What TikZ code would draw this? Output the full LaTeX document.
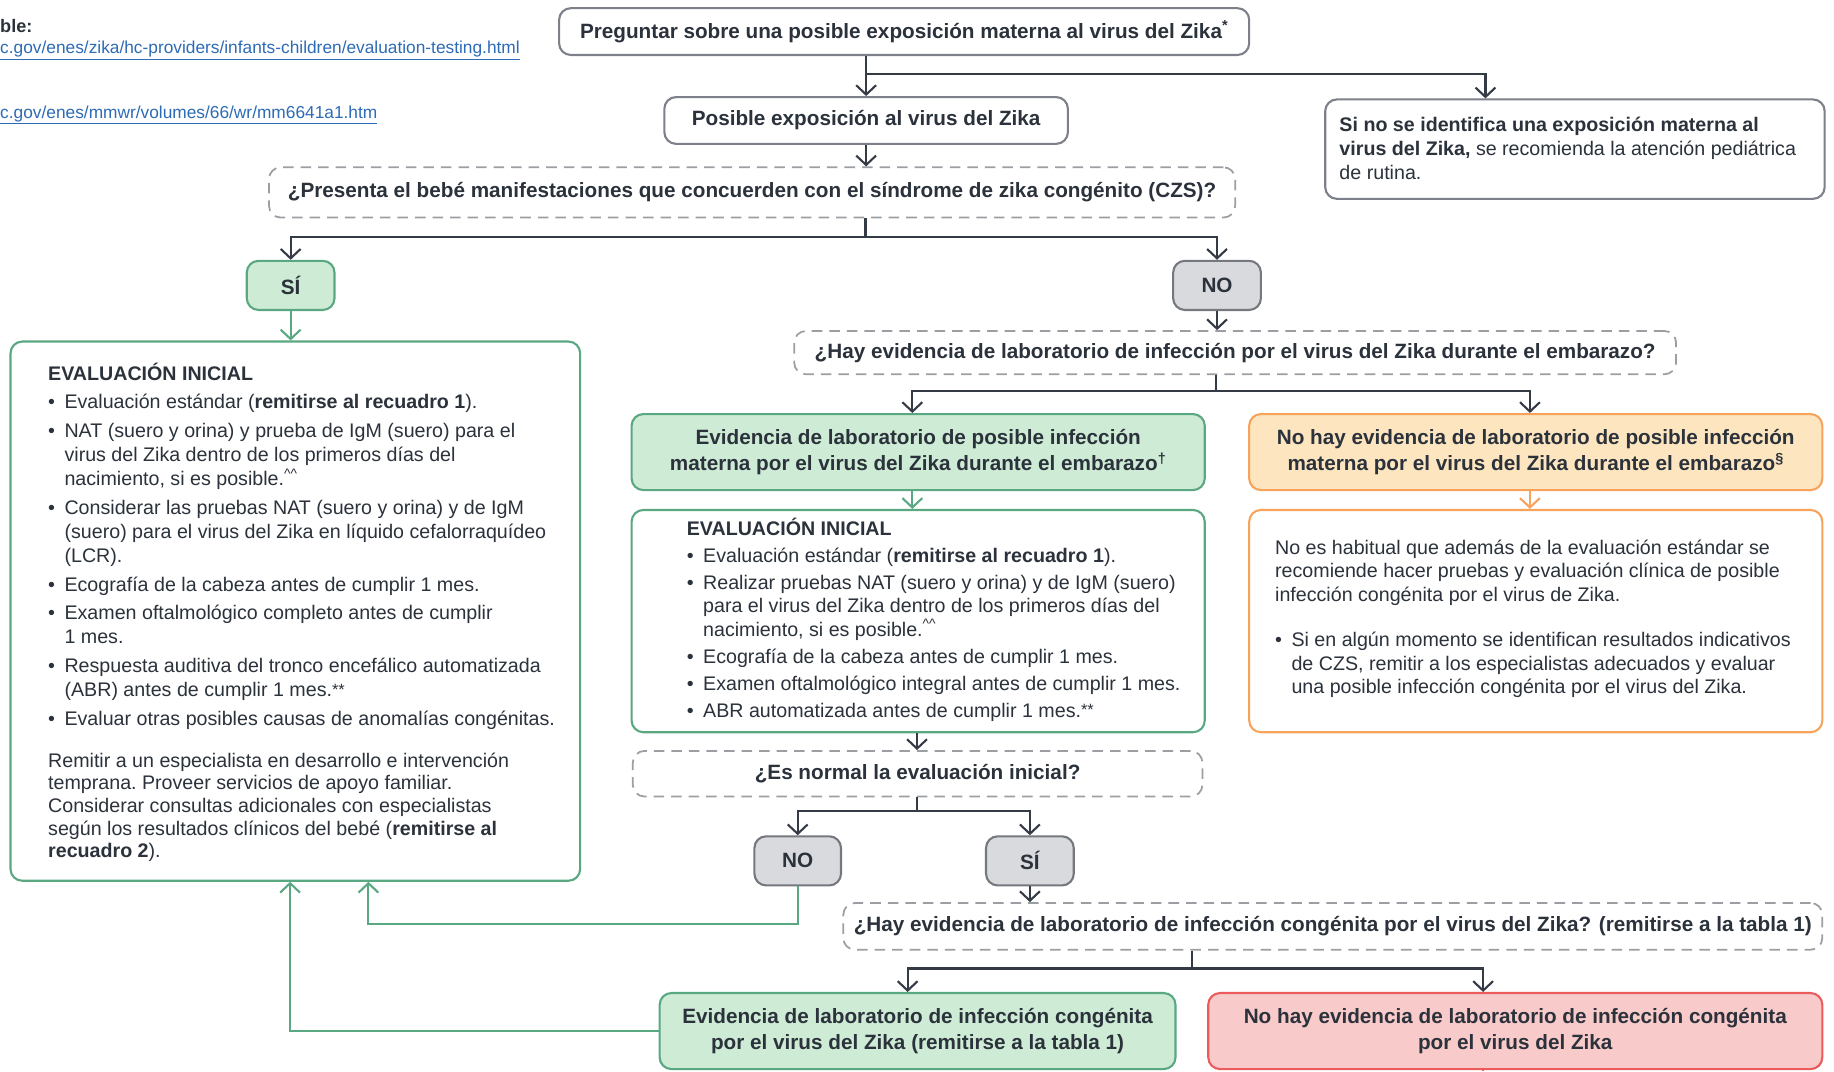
\documentclass[tikz,border=0pt]{standalone}
\usepackage{fontspec}
\setmainfont{Liberation Sans}
\usetikzlibrary{arrows.meta,calc}
\definecolor{txt}{HTML}{2B323B}
\definecolor{ln}{HTML}{343B45}
\definecolor{bxgray}{HTML}{7D8088}
\definecolor{dgray}{HTML}{9B9EA3}
\definecolor{grB}{HTML}{5AA882}
\definecolor{grF}{HTML}{CDEBD5}
\definecolor{gyB}{HTML}{75787E}
\definecolor{gyF}{HTML}{D9DADD}
\definecolor{orB}{HTML}{F7A35C}
\definecolor{orF}{HTML}{FDE5BF}
\definecolor{rdB}{HTML}{EB5B5B}
\definecolor{rdF}{HTML}{F9CACA}
\definecolor{lnk}{HTML}{2C6BB5}
\newcommand{\headfont}{\fontsize{17.7pt}{22pt}\selectfont\bfseries}
\newlength{\bul}
\setlength{\bul}{14pt}
\newlength{\igap}
\newcommand{\bitem}{\par\vspace{\igap}\hangindent=\bul\hangafter=1\noindent\makebox[\bul][l]{\textbullet}}
\newcommand{\tblock}[4]{\vtop{\hsize=#1\parindent=0pt\parskip=0pt\frenchspacing\setlength{\igap}{#3}\fontsize{16.8pt}{#2}\selectfont #4\par}}
\newcommand{\carets}{\textsuperscript{\char94\char94}}
\newcommand{\stars}{\raisebox{1pt}{\fontsize{14pt}{14pt}\selectfont **}}
\begin{document}
\begin{tikzpicture}[x=1pt,y=-1pt,
  bx/.style={draw=bxgray, fill=white, rounded corners=10pt, line width=1.8pt, inner sep=0pt, align=center, text=txt, font=\headfont},
  dbx/.style={bx, draw=dgray, line width=1.5pt, dash pattern=on 9pt off 6pt},
  gbx/.style={bx, draw=grB, fill=grF},
  ybx/.style={bx, draw=gyB, fill=gyF},
  obx/.style={bx, draw=orB, fill=orF},
  rbx/.style={bx, draw=rdB, fill=rdF},
  tx/.style={anchor=base west, inner sep=0pt, text=txt},
  conn/.style={draw=ln, line width=1.8pt},
  arr/.style={-{Straight Barb[length=8pt,width=17pt]}},
  garr/.style={draw=grB, line width=1.8pt, arr},
  oarr/.style={draw=orB, line width=1.8pt, arr}]
\useasboundingbox (0,0) rectangle (1568,916);

% header texts (top left, cut off)
\node[tx, font=\fontsize{15.5pt}{18pt}\selectfont\bfseries] (src) at (0,28) {ble:};
\node[tx, text=lnk, font=\fontsize{14.8pt}{18pt}\selectfont] (url1) at (0,46) {\underline{c.gov/enes/zika/hc-providers/infants-children/evaluation-testing.html}};
\node[tx, text=lnk, font=\fontsize{14.8pt}{18pt}\selectfont] (url2) at (0,101) {\underline{c.gov/enes/mmwr/volumes/66/wr/mm6641a1.htm}};

% boxes
\node[bx, minimum width=590, minimum height=40] (top) at (773,27) {Preguntar sobre una posible exposición materna al virus del Zika\textsuperscript{*}};
\node[bx, minimum width=345, minimum height=40] (pos) at (740.5,103) {Posible exposición al virus del Zika};
\node[bx, minimum width=427, minimum height=85] (right) at (1346.5,127.5) {};
\node[tx] (righttxt) at (1145,112) {\tblock{420pt}{20.7pt}{0pt}{\textbf{Si no se identifica una exposición materna al}\\\textbf{virus del Zika,} se recomienda la atención pediátrica\\de rutina.}};

\node[dbx, minimum width=826, minimum height=43] (q1) at (643,164.5) {¿Presenta el bebé manifestaciones que concuerden con el síndrome de zika congénito (CZS)?};
\node[gbx, minimum width=75, minimum height=42] (si1) at (248.5,244) {SÍ};
\node[ybx, minimum width=75, minimum height=42] (no1) at (1040.5,244) {NO};

\node[bx, draw=grB, minimum width=487, minimum height=461] (left) at (252.5,522.5) {};
\node[tx] (lefttxt) at (41,325) {\tblock{470pt}{20.6pt}{3.9pt}{%
\textbf{EVALUACIÓN INICIAL}
\bitem Evaluación estándar (\textbf{remitirse al recuadro 1}).
\bitem NAT (suero y orina) y prueba de IgM (suero) para el\\virus del Zika dentro de los primeros días del\\nacimiento, si es posible.\carets
\bitem Considerar las pruebas NAT (suero y orina) y de IgM\\(suero) para el virus del Zika en líquido cefalorraquídeo\\(LCR).
\bitem Ecografía de la cabeza antes de cumplir 1 mes.
\bitem Examen oftalmológico completo antes de cumplir\\1 mes.
\bitem Respuesta auditiva del tronco encefálico automatizada\\(ABR) antes de cumplir 1 mes.\stars
\bitem Evaluar otras posibles causas de anomalías congénitas.}};
\node[tx] (leftpar) at (41,656) {\tblock{470pt}{19.3pt}{0pt}{%
Remitir a un especialista en desarrollo e intervención\\temprana. Proveer servicios de apoyo familiar.\\Considerar consultas adicionales con especialistas\\según los resultados clínicos del bebé (\textbf{remitirse al}\\\textbf{recuadro 2}).}};

\node[dbx, minimum width=754, minimum height=37] (q2) at (1056,301.5) {¿Hay evidencia de laboratorio de infección por el virus del Zika durante el embarazo?};
\node[gbx, minimum width=490, minimum height=65] (evG) at (785,386.5) {Evidencia de laboratorio de posible infección\\materna por el virus del Zika durante el embarazo\textsuperscript{†}};
\node[obx, minimum width=490, minimum height=65] (evO) at (1313,386.5) {No hay evidencia de laboratorio de posible infección\\materna por el virus del Zika durante el embarazo\textsuperscript{§}};

\node[bx, draw=grB, minimum width=490, minimum height=190] (evalG) at (785,531) {};
\node[tx] (evalGtxt) at (587,458) {\tblock{440pt}{20pt}{3pt}{%
\textbf{EVALUACIÓN INICIAL}
\bitem Evaluación estándar (\textbf{remitirse al recuadro 1}).
\bitem Realizar pruebas NAT (suero y orina) y de IgM (suero)\\para el virus del Zika dentro de los primeros días del\\nacimiento, si es posible.\carets
\bitem Ecografía de la cabeza antes de cumplir 1 mes.
\bitem Examen oftalmológico integral antes de cumplir 1 mes.
\bitem ABR automatizada antes de cumplir 1 mes.\stars}};

\node[bx, draw=orB, minimum width=490, minimum height=190] (evalO) at (1313,531) {};
\node[tx] (evalOtxt) at (1090,474) {\tblock{460pt}{20pt}{19pt}{%
No es habitual que además de la evaluación estándar se\\recomiende hacer pruebas y evaluación clínica de posible\\infección congénita por el virus de Zika.
\bitem Si en algún momento se identifican resultados indicativos\\de CZS, remitir a los especialistas adecuados y evaluar\\una posible infección congénita por el virus del Zika.}};

\node[dbx, minimum width=487, minimum height=39] (q3) at (784.5,661.5) {¿Es normal la evaluación inicial?};
\node[ybx, minimum width=74, minimum height=42] (no2) at (682,736) {NO};
\node[ybx, minimum width=75, minimum height=42] (si2) at (880.5,736) {SÍ};
\node[dbx, minimum width=837, minimum height=40] (q4) at (1139.5,792) {¿Hay evidencia de laboratorio de infección congénita por el virus del Zika? (remitirse a la tabla 1)};
\node[gbx, minimum width=441, minimum height=65] (gr3) at (784.5,881.5) {Evidencia de laboratorio de infección congénita\\por el virus del Zika (remitirse a la tabla 1)};
\node[rbx, minimum width=525, minimum height=65] (red) at (1295.5,881.5) {No hay evidencia de laboratorio de infección congénita\\por el virus del Zika};

% junction coordinates
\coordinate (j1) at (1270,63);
\coordinate (j2) at (740,203);
\coordinate (j3) at (1040,334);
\coordinate (a3) at (780,0);
\coordinate (a4) at (1308,0);
\coordinate (j4) at (784,693);
\coordinate (a5) at (315,790);
\coordinate (j6) at (1019,828);
\coordinate (a6) at (776,0);
\coordinate (a7) at (1268,0);
\coordinate (a8) at (248,0);
\coordinate (bot) at (1268,916);

% connectors
\draw[conn,arr] (top.south -| pos.north) -- (pos.north);
\draw[conn,arr] (j1 -| pos.north) -- (j1) -- (j1 |- right.north);
\draw[conn,arr] (pos.south) -- (pos.south |- q1.north);
\draw[conn] (q1.south -| j2) -- (j2);
\draw[conn,arr] (j2) -| (si1.north);
\draw[conn,arr] (j2) -| (no1.north);
\draw[garr] (si1.south) -- (si1.south |- left.north);
\draw[conn,arr] (no1.south) -- (no1.south |- q2.north);
\draw[conn] (q2.south -| j3) -- (j3);
\draw[conn,arr] (j3) -| (evG.north -| a3);
\draw[conn,arr] (j3) -| (evO.north -| a4);
\draw[garr] (evG.south -| a3) -- (evalG.north -| a3);
\draw[oarr] (evO.south -| a4) -- (evalO.north -| a4);
\draw[conn,arr] (evalG.south -| j4) -- (q3.north -| j4);
\draw[conn] (q3.south -| j4) -- (j4);
\draw[conn,arr] (j4) -| (no2.north);
\draw[conn,arr] (j4) -| (si2.north);
\draw[garr] (no2.south) |- (a5) -- (a5 |- left.south);
\draw[conn,arr] (si2.south) -- (si2.south |- q4.north);
\draw[conn] (q4.south -| j6) -- (j6);
\draw[conn,arr] (j6) -| (gr3.north -| a6);
\draw[conn,arr] (j6) -| (red.north -| a7);
\draw[garr] (gr3.west) -| (a8 |- left.south);
\draw[draw=rdB, line width=1.8pt] (red.south -| bot) -- (bot);
\end{tikzpicture}
\end{document}
